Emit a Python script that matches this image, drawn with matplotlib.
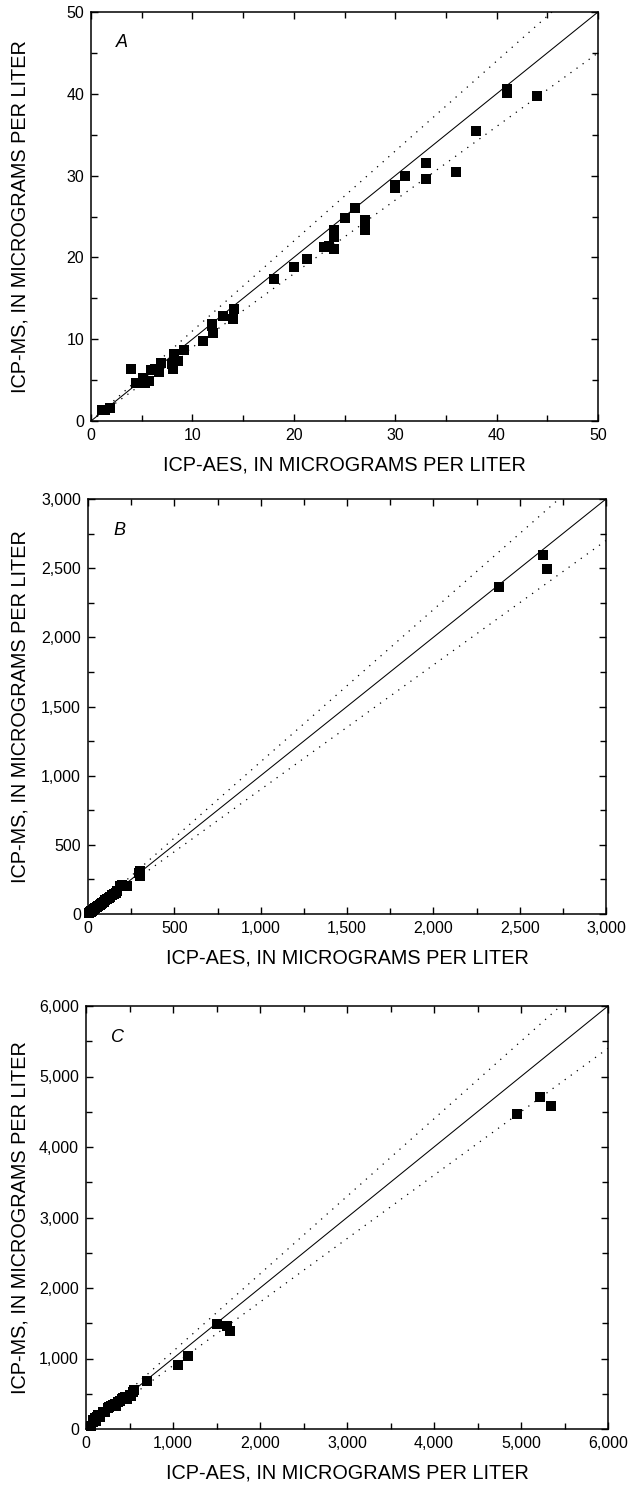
import matplotlib
matplotlib.use("Agg")
import matplotlib.pyplot as plt
from matplotlib.ticker import FuncFormatter, MultipleLocator

plt.rcParams["font.family"] = ["Liberation Sans", "DejaVu Sans"]

# panel A, ICP-AES vs ICP-MS (micrograms per liter)
a_aes = [1.1, 1.4, 1.9, 3.9, 4.4, 4.9, 5.1, 5.35, 5.7, 5.9, 6.3, 6.7, 6.95,
         8.05, 8.0, 8.15, 8.55, 9.2, 11.0, 11.95, 12.0, 11.9, 13.05, 14.1,
         14.0, 18.0, 20.0, 21.3, 23.0, 23.5, 24.0, 24.0, 24.0, 25.0, 26.0,
         27.0, 27.0, 30.0, 30.0, 31.0, 33.0, 33.0, 36.0, 38.0, 41.0, 41.0,
         44.0]
a_ms = [1.3, 1.4, 1.55, 6.4, 4.6, 4.7, 5.2, 4.7, 4.9, 6.2, 6.4, 6.0, 7.05,
        6.4, 7.0, 8.2, 7.35, 8.65, 9.8, 11.6, 10.7, 11.8, 12.85, 13.7,
        12.45, 17.35, 18.8, 19.8, 21.3, 21.4, 21.0, 23.3, 22.5, 24.8, 26.1,
        24.6, 23.3, 28.5, 28.8, 30.0, 31.55, 29.55, 30.4, 35.4, 40.6, 40.1,
        39.7]

# panel B
b_aes = [5, 10, 15, 20, 25, 30, 35, 40, 50, 55, 60, 70, 75, 80, 90, 100,
         110, 120, 130, 140, 150, 160, 170, 185, 195, 210, 225, 295, 300,
         300, 2378, 2637, 2658]
b_ms = [5, 12, 14, 22, 24, 30, 33, 42, 48, 52, 58, 68, 72, 82, 85, 98,
        105, 118, 125, 140, 145, 150, 165, 200, 212, 205, 205, 300, 275,
        310, 2367, 2596, 2491]

# panel C
c_aes = [60, 75, 85, 100, 110, 130, 140, 160, 200, 220, 250, 270, 290,
         315, 330, 350, 370, 390, 410, 430, 450, 470, 500, 520, 545, 550,
         698, 1054, 1170, 1500, 1625, 1650, 4955, 5214, 5344]
c_ms = [47, 95, 128, 152, 120, 166, 198, 170, 245, 237, 293, 308, 320,
        340, 356, 330, 387, 403, 420, 435, 450, 420, 482, 470, 522, 553,
        678, 905, 1032, 1485, 1460, 1392, 4473, 4710, 4582]

x_label = "ICP-AES, IN MICROGRAMS PER LITER"
y_label = "ICP-MS, IN MICROGRAMS PER LITER"


def draw_panel(ax, aes, ms, vmax, major, minor, letter, commas):
    ref = [0, vmax]
    ax.plot(ref, ref, color="black", lw=0.75, zorder=1)
    ax.plot(ref, [0, vmax * 1.1], color="black", lw=0.9,
            linestyle=(0, (1, 5)), zorder=1)
    ax.plot(ref, [0, vmax * 0.9], color="black", lw=0.9,
            linestyle=(0, (1, 5)), zorder=1)
    ax.plot(aes, ms, "s", color="black", ms=6.5, mew=0, zorder=2,
            clip_on=False)

    ax.set_xlim(0, vmax)
    ax.set_ylim(0, vmax)
    for axis in (ax.xaxis, ax.yaxis):
        axis.set_major_locator(MultipleLocator(major))
        axis.set_minor_locator(MultipleLocator(minor))
        if commas:
            axis.set_major_formatter(FuncFormatter(lambda v, p: f"{v:,.0f}"))
    ax.tick_params(which="both", direction="in", top=True, right=True,
                   labelsize=11.5, width=1.0)
    ax.tick_params(which="major", length=5, pad=5)
    ax.tick_params(which="minor", length=4)
    for sp in ax.spines.values():
        sp.set_linewidth(1.1)

    ax.set_xlabel(x_label, fontsize=14.3, va="center")
    ax.set_ylabel(y_label, fontsize=14.3, va="center")
    ax.text(0.06, 0.925, letter, transform=ax.transAxes, fontsize=13,
            style="italic", va="center", ha="center")


fig = plt.figure(figsize=(6.31, 14.88), dpi=100)
W, H = 631.0, 1488.0

# (left, right, top, bottom) of each plot box, in pixels
boxes = [(91, 598, 12, 421), (88, 606, 499, 914), (86, 608, 1006, 1429)]
panels = [
    (a_aes, a_ms, 50, 10, 5, "A", False),
    (b_aes, b_ms, 3000, 500, 250, "B", True),
    (c_aes, c_ms, 6000, 1000, 500, "C", True),
]

for (l, r, t, b), spec in zip(boxes, panels):
    ax = fig.add_axes([l / W, (H - b) / H, (r - l) / W, (b - t) / H])
    draw_panel(ax, *spec)
    ax.xaxis.set_label_coords(0.5, -44.0 / (b - t))
    ax.yaxis.set_label_coords((20.0 - l) / (r - l), 0.5)

fig.savefig("out.png", dpi=100)
